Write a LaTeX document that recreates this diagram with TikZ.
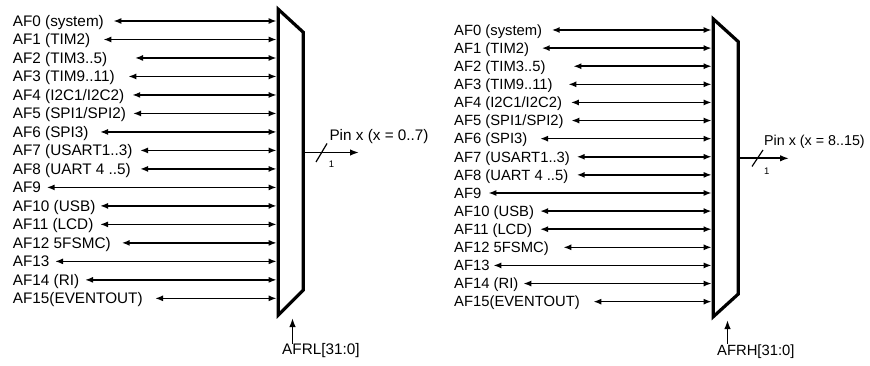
\documentclass[tikz,border=0pt]{standalone}
\usepackage{fontspec}
\setmainfont{Liberation Sans}
\usetikzlibrary{arrows.meta}
\begin{document}
\begin{tikzpicture}[x=1pt,y=-1pt,
  sig/.style={{Latex[length=8pt,width=6pt]}-{Latex[length=8pt,width=6pt]}, line width=1.6pt},
  outarrow/.style={-{Latex[length=9pt,width=6.5pt]}, line width=1.6pt},
  slashline/.style={line width=1.2pt},
  muxbox/.style={line width=3.2pt, line join=miter, miter limit=10},
  lblL/.style={anchor=base west, inner sep=0pt, font=\fontsize{15.3}{18}\selectfont},
  lblR/.style={anchor=base west, inner sep=0pt, font=\fontsize{14.8}{18}\selectfont},
  smalllbl/.style={inner sep=0pt, font=\fontsize{9.5}{10}\selectfont}]
\useasboundingbox (0,0) rectangle (870,366);

% ---------------- left multiplexer ----------------
\coordinate (Ltl) at (278.3,9.3);
\coordinate (Ltr) at (303.3,32.3);
\coordinate (Lbr) at (303.3,290);
\coordinate (Lbl) at (278.3,315);
\draw[muxbox] (Ltl) -- (Ltr) -- (Lbr) -- (Lbl) -- cycle;

\foreach \s [count=\i from 0] in {113.3,103.3,135,128.3,132.2,133,100,140,140,46.7,100,100,121.7,55,85,155} {
  \coordinate (aL\i) at (\s,{21+18.49*\i});
  \coordinate (bL\i) at (276.7,{21+18.49*\i});
  \draw[sig] (aL\i) -- (bL\i);
}
\foreach \t [count=\i from 0] in {AF0 (system),AF1 (TIM2),AF2 (TIM3..5),AF3 (TIM9..11),{AF4 (I2C1/I2C2)},{AF5 (SPI1/SPI2)},AF6 (SPI3),AF7 (USART1..3),AF8 (UART 4 ..5),AF9,AF10 (USB),AF11 (LCD),AF12 5FSMC),AF13,AF14 (RI),AF15(EVENTOUT)} {
  \node[lblL] (lL\i) at (12.7,{26.4+18.49*\i}) {\t};
}

\coordinate (Lo1) at (303.3,152.5);
\coordinate (Lo2) at (359,152.5);
\draw[outarrow] (Lo1) -- (Lo2);
\draw[slashline] (316,162) -- (327,143.5);
\node[smalllbl] (Lone) at (331.5,164.5) {1};
\node[lblL] (Lpin) at (329.3,140.5) {Pin x (x = 0..7)};

\coordinate (Lc1) at (292.5,343.5);
\coordinate (Lc2) at (292.5,318);
\draw[outarrow] (Lc1) -- (Lc2);
\node[lblL] (Lafr) at (282,354.5) {AFRL[31:0]};

% ---------------- right multiplexer ----------------
\coordinate (Rtl) at (713.3,19);
\coordinate (Rtr) at (738.3,41.7);
\coordinate (Rbr) at (738.3,294);
\coordinate (Rbl) at (713.3,316.7);
\draw[muxbox] (Rtl) -- (Rtr) -- (Rbr) -- (Rbl) -- cycle;

\foreach \s [count=\i from 0] in {551.7,541.7,573.3,568.3,570.8,571.3,540,576.7,576.7,488.3,540,540,563.3,493.3,523.3,593.3} {
  \coordinate (aR\i) at (\s,{30+18.11*\i});
  \coordinate (bR\i) at (711.7,{30+18.11*\i});
  \draw[sig] (aR\i) -- (bR\i);
}
\foreach \t [count=\i from 0] in {AF0 (system),AF1 (TIM2),AF2 (TIM3..5),AF3 (TIM9..11),{AF4 (I2C1/I2C2)},{AF5 (SPI1/SPI2)},AF6 (SPI3),AF7 (USART1..3),AF8 (UART 4 ..5),AF9,AF10 (USB),AF11 (LCD),AF12 5FSMC),AF13,AF14 (RI),AF15(EVENTOUT)} {
  \node[lblR] (lR\i) at (454,{35.3+18.11*\i}) {\t};
}

\coordinate (Ro1) at (738.3,158.3);
\coordinate (Ro2) at (789,158.3);
\draw[outarrow] (Ro1) -- (Ro2);
\draw[slashline] (752,166.5) -- (763,150);
\node[smalllbl] (Rone) at (766.7,171) {1};
\node[lblR, font=\fontsize{14.3}{18}\selectfont] (Rpin) at (764,145.2) {Pin x (x = 8..15)};

\coordinate (Rc1) at (727.5,343.5);
\coordinate (Rc2) at (727.5,320);
\draw[outarrow] (Rc1) -- (Rc2);
\node[lblR] (Rafr) at (717,355.3) {AFRH[31:0]};
\end{tikzpicture}
\end{document}
